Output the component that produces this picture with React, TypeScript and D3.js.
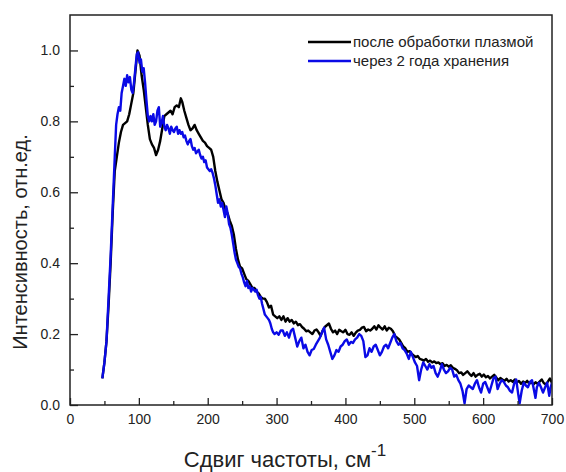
import { useEffect, useRef } from 'react';
import * as d3 from 'd3';

// Raman spectra: intensity (norm.) vs frequency shift, cm^-1
const plasmaShift = [47, 50, 53, 56, 59, 62, 65, 68, 71, 74, 77, 80, 83, 86, 89, 92, 95, 98, 101, 104, 107, 110, 113, 116, 119, 122, 125, 128, 131, 134, 137, 140, 143, 146, 149, 152, 155, 158, 161, 163, 166, 169, 172, 175, 178, 181, 184, 187, 190, 193, 196, 199, 202, 205, 208, 211, 214, 217, 220, 223, 226, 229, 232, 235, 238, 241, 244, 247, 250, 253, 256, 259, 262, 265, 268, 271, 274, 277, 280, 283, 286, 289, 292, 295, 298, 301, 304, 307, 310, 313, 316, 319, 322, 325, 328, 331, 334, 337, 340, 343, 346, 349, 352, 355, 358, 361, 364, 367, 370, 373, 376, 379, 382, 385, 388, 391, 394, 397, 400, 403, 406, 409, 412, 415, 418, 421, 424, 427, 430, 433, 436, 439, 442, 445, 448, 451, 454, 457, 460, 463, 466, 469, 472, 475, 478, 481, 484, 487, 490, 493, 496, 499, 502, 505, 508, 511, 514, 517, 520, 523, 526, 529, 532, 535, 538, 541, 544, 547, 550, 553, 556, 559, 562, 565, 568, 571, 574, 577, 580, 583, 586, 589, 592, 595, 598, 601, 604, 607, 610, 613, 616, 619, 622, 625, 628, 631, 634, 637, 640, 643, 646, 649, 652, 655, 658, 661, 664, 667, 670, 673, 676, 679, 682, 685, 688, 691, 694, 697, 700];
const plasmaInt = [0.075, 0.12, 0.18, 0.28, 0.40, 0.54, 0.66, 0.70, 0.74, 0.77, 0.79, 0.795, 0.80, 0.82, 0.85, 0.88, 0.94, 1.0, 0.985, 0.93, 0.89, 0.84, 0.79, 0.75, 0.735, 0.725, 0.705, 0.72, 0.745, 0.78, 0.815, 0.82, 0.825, 0.83, 0.82, 0.84, 0.845, 0.84, 0.865, 0.855, 0.83, 0.81, 0.79, 0.775, 0.78, 0.79, 0.775, 0.765, 0.755, 0.745, 0.74, 0.73, 0.725, 0.72, 0.70, 0.66, 0.63, 0.605, 0.58, 0.57, 0.55, 0.54, 0.52, 0.505, 0.48, 0.44, 0.41, 0.39, 0.385, 0.37, 0.355, 0.35, 0.34, 0.33, 0.33, 0.32, 0.315, 0.305, 0.30, 0.30, 0.29, 0.275, 0.28, 0.255, 0.25, 0.245, 0.25, 0.24, 0.25, 0.235, 0.245, 0.235, 0.24, 0.23, 0.235, 0.225, 0.228, 0.22, 0.215, 0.208, 0.21, 0.205, 0.20, 0.21, 0.213, 0.205, 0.195, 0.21, 0.22, 0.225, 0.23, 0.215, 0.205, 0.21, 0.20, 0.212, 0.208, 0.205, 0.212, 0.20, 0.198, 0.205, 0.195, 0.204, 0.21, 0.212, 0.218, 0.22, 0.208, 0.213, 0.21, 0.215, 0.222, 0.213, 0.225, 0.218, 0.213, 0.222, 0.21, 0.218, 0.215, 0.208, 0.195, 0.19, 0.185, 0.175, 0.165, 0.16, 0.15, 0.152, 0.145, 0.14, 0.135, 0.138, 0.13, 0.128, 0.125, 0.13, 0.122, 0.125, 0.12, 0.123, 0.118, 0.12, 0.115, 0.118, 0.11, 0.113, 0.108, 0.112, 0.105, 0.102, 0.098, 0.09, 0.092, 0.085, 0.09, 0.095, 0.088, 0.082, 0.09, 0.08, 0.085, 0.088, 0.08, 0.086, 0.078, 0.082, 0.075, 0.08, 0.085, 0.078, 0.07, 0.076, 0.072, 0.068, 0.074, 0.066, 0.07, 0.065, 0.072, 0.064, 0.068, 0.06, 0.066, 0.062, 0.068, 0.06, 0.065, 0.058, 0.064, 0.06, 0.066, 0.072, 0.062, 0.058, 0.066, 0.075, 0.062];

const storedShift = [47, 50, 53, 56, 59, 62, 65, 67, 69, 71, 73, 75, 77, 79, 81, 83, 85, 87, 89, 91, 93, 95, 97, 99, 101, 103, 105, 107, 109, 111, 113, 115, 117, 119, 121, 123, 125, 127, 129, 131, 133, 135, 137, 139, 141, 143, 145, 147, 149, 151, 153, 155, 157, 159, 161, 163, 165, 167, 169, 171, 173, 175, 177, 179, 181, 183, 185, 187, 189, 191, 193, 195, 197, 199, 201, 203, 205, 207, 209, 211, 213, 215, 217, 219, 221, 223, 225, 227, 229, 231, 233, 235, 237, 239, 241, 243, 245, 247, 249, 251, 253, 255, 257, 259, 261, 263, 265, 267, 269, 271, 273, 275, 277, 279, 281, 283, 285, 287, 289, 291, 293, 295, 297, 300, 303, 306, 309, 312, 315, 318, 321, 324, 327, 330, 333, 336, 339, 342, 345, 348, 351, 354, 357, 360, 363, 366, 369, 372, 375, 378, 381, 384, 387, 390, 393, 396, 399, 402, 405, 408, 411, 414, 417, 420, 423, 426, 429, 432, 435, 438, 441, 444, 447, 450, 453, 456, 459, 462, 465, 468, 471, 474, 477, 480, 483, 486, 489, 492, 495, 498, 501, 504, 507, 510, 513, 516, 519, 522, 525, 528, 531, 534, 537, 540, 543, 546, 549, 552, 555, 558, 561, 564, 567, 570, 573, 576, 579, 582, 585, 588, 591, 594, 597, 600, 603, 606, 609, 612, 615, 618, 621, 624, 627, 630, 633, 636, 639, 642, 645, 648, 651, 653, 656, 659, 662, 665, 668, 671, 674, 676, 678, 681, 684, 687, 690, 693, 696, 698, 700];
const storedInt = [0.075, 0.12, 0.18, 0.30, 0.42, 0.56, 0.70, 0.79, 0.82, 0.84, 0.83, 0.88, 0.90, 0.92, 0.90, 0.93, 0.91, 0.925, 0.89, 0.88, 0.91, 0.95, 0.99, 0.995, 0.965, 0.975, 0.94, 0.95, 0.91, 0.86, 0.815, 0.80, 0.815, 0.80, 0.82, 0.79, 0.80, 0.83, 0.84, 0.785, 0.795, 0.815, 0.785, 0.775, 0.79, 0.78, 0.765, 0.785, 0.775, 0.77, 0.78, 0.785, 0.765, 0.775, 0.765, 0.77, 0.755, 0.76, 0.745, 0.735, 0.745, 0.75, 0.73, 0.72, 0.725, 0.71, 0.715, 0.72, 0.705, 0.695, 0.70, 0.685, 0.69, 0.67, 0.665, 0.66, 0.665, 0.655, 0.64, 0.62, 0.595, 0.57, 0.58, 0.56, 0.57, 0.55, 0.53, 0.56, 0.54, 0.51, 0.50, 0.48, 0.455, 0.43, 0.41, 0.40, 0.39, 0.385, 0.37, 0.36, 0.345, 0.335, 0.35, 0.33, 0.335, 0.32, 0.33, 0.325, 0.32, 0.325, 0.31, 0.30, 0.305, 0.285, 0.27, 0.255, 0.25, 0.245, 0.24, 0.23, 0.215, 0.205, 0.20, 0.205, 0.198, 0.21, 0.21, 0.195, 0.205, 0.19, 0.21, 0.215, 0.19, 0.165, 0.18, 0.19, 0.16, 0.17, 0.15, 0.14, 0.155, 0.158, 0.17, 0.18, 0.19, 0.205, 0.218, 0.185, 0.17, 0.15, 0.13, 0.14, 0.155, 0.15, 0.165, 0.17, 0.18, 0.185, 0.17, 0.178, 0.175, 0.185, 0.19, 0.20, 0.195, 0.18, 0.135, 0.14, 0.16, 0.15, 0.165, 0.17, 0.155, 0.14, 0.15, 0.165, 0.17, 0.16, 0.175, 0.19, 0.20, 0.18, 0.17, 0.175, 0.16, 0.155, 0.145, 0.13, 0.15, 0.135, 0.12, 0.11, 0.07, 0.10, 0.12, 0.11, 0.10, 0.115, 0.105, 0.11, 0.09, 0.08, 0.095, 0.115, 0.10, 0.09, 0.095, 0.105, 0.10, 0.08, 0.085, 0.07, 0.06, 0.04, 0.005, 0.045, 0.055, 0.05, 0.045, 0.06, 0.07, 0.05, 0.035, 0.06, 0.065, 0.05, 0.035, 0.055, 0.075, 0.08, 0.045, 0.06, 0.07, 0.065, 0.055, 0.05, 0.04, 0.035, 0.06, 0.072, 0.03, 0.005, 0.04, 0.063, 0.055, 0.05, 0.065, 0.07, 0.04, 0.02, 0.05, 0.063, 0.05, 0.035, 0.05, 0.063, 0.026, 0.05, 0.063];

const seriesNames = ['после обработки плазмой', 'через 2 года хранения'];
const seriesColors = ['#000000', '#0a0ae6'];
const xTicks = [0, 100, 200, 300, 400, 500, 600, 700];
const yTicks = [0.0, 0.2, 0.4, 0.6, 0.8, 1.0];

const FONT = 'Arial, "Liberation Sans", sans-serif';

export default function App() {
  const svgRef = useRef<SVGSVGElement>(null);

  useEffect(() => {
    const el = svgRef.current;
    if (!el) return;
    d3.select(el).selectAll('*').remove();

    const W = 566, H = 472;
    const margin = { top: 15, right: 14, bottom: 67, left: 70 };
    const w = W - margin.left - margin.right;
    const h = H - margin.top - margin.bottom;

    const svg = d3.select(el).attr('width', W).attr('height', H);
    const g = svg.append('g').attr('transform', `translate(${margin.left},${margin.top})`);

    const x = d3.scaleLinear().domain([0, 700]).range([0, w]);
    const y = d3.scaleLinear().domain([0, 1.1]).range([h, 0]);

    g.append('clipPath').attr('id', 'plot-clip')
      .append('rect').attr('width', w).attr('height', h);

    const series = [
      plasmaShift.map((s, i) => ({ s, v: plasmaInt[i] })),
      storedShift.map((s, i) => ({ s, v: storedInt[i] })),
    ];

    const line = d3.line<{ s: number; v: number }>()
      .x(d => x(d.s))
      .y(d => y(d.v));

    // blue drawn after black, as in the original
    series.forEach((data, i) => {
      g.append('path')
        .datum(data)
        .attr('clip-path', 'url(#plot-clip)')
        .attr('fill', 'none')
        .attr('stroke', seriesColors[i])
        .attr('stroke-width', 2.4)
        .attr('stroke-linejoin', 'round')
        .attr('d', line);
    });

    // Axes with inward ticks
    const styleAxis = (sel: d3.Selection<SVGGElement, unknown, null, undefined>) => {
      sel.select('.domain').remove();
      sel.selectAll('line').attr('stroke', '#222').attr('stroke-width', 1.3);
      sel.selectAll('text')
        .style('font-family', FONT)
        .style('font-size', '14px')
        .style('fill', '#222');
    };

    g.append('g').attr('transform', `translate(0,${h})`)
      .call(d3.axisBottom(x).tickValues(xTicks).tickFormat(d3.format('d')).tickSizeInner(-7).tickSizeOuter(0).tickPadding(9))
      .call(styleAxis);
    g.append('g').attr('transform', `translate(0,${h})`)
      .call(d3.axisBottom(x).tickValues([50, 150, 250, 350, 450, 550, 650]).tickFormat(() => '').tickSizeInner(-4).tickSizeOuter(0))
      .call(styleAxis);

    g.append('g')
      .call(d3.axisLeft(y).tickValues(yTicks).tickFormat(d3.format('.1f')).tickSizeInner(-8).tickSizeOuter(0).tickPadding(10))
      .call(styleAxis);
    g.append('g')
      .call(d3.axisLeft(y).tickValues([0.1, 0.3, 0.5, 0.7, 0.9]).tickFormat(() => '').tickSizeInner(-4).tickSizeOuter(0))
      .call(styleAxis);

    // Frame
    g.append('rect')
      .attr('width', w).attr('height', h)
      .attr('fill', 'none')
      .attr('stroke', '#222')
      .attr('stroke-width', 1.5);

    // Legend
    seriesNames.forEach((name, i) => {
      const ly = 27 + i * 19;
      g.append('line')
        .attr('x1', 238).attr('x2', 281)
        .attr('y1', ly).attr('y2', ly)
        .attr('stroke', seriesColors[i])
        .attr('stroke-width', 2.4);
      g.append('text')
        .attr('x', 283).attr('y', ly).attr('dy', '0.35em')
        .style('font-family', FONT)
        .style('font-size', '15px')
        .style('fill', '#222')
        .text(name);
    });

    // Axis titles
    const xt = svg.append('text')
      .attr('x', 285).attr('y', 467)
      .attr('text-anchor', 'middle')
      .style('font-family', FONT)
      .style('font-size', '22px')
      .style('fill', '#222');
    xt.append('tspan').text('Сдвиг частоты, см');
    xt.append('tspan').attr('dy', -11).style('font-size', '17px').text('-1');

    svg.append('text')
      .attr('transform', `translate(27,${margin.top + h / 2 + 32}) rotate(-90)`)
      .attr('text-anchor', 'middle')
      .style('font-family', FONT)
      .style('font-size', '20px')
      .style('fill', '#222')
      .text('Интенсивность, отн.ед.');
  }, []);

  return (
    <svg ref={svgRef} style={{ position: 'absolute', left: 0, top: 0, background: '#fff' }} />
  );
}
